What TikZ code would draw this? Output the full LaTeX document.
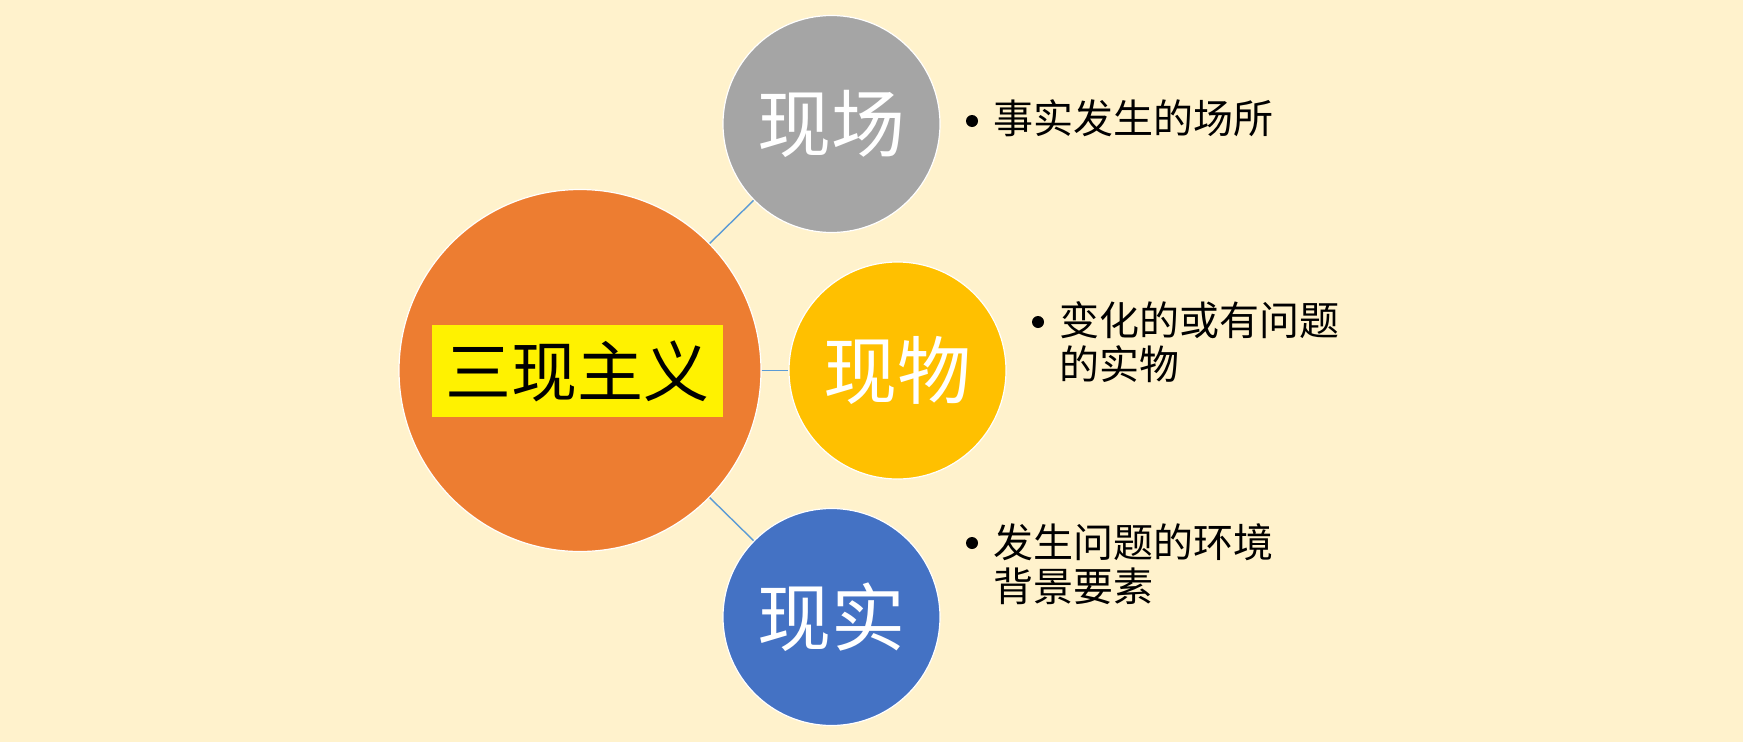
\documentclass[tikz,border=0pt]{standalone}
\usepackage{fontspec}
\setmainfont{Noto Sans CJK SC}
\definecolor{bgc}{HTML}{FFF2CC}
\definecolor{orangec}{HTML}{ED7D31}
\definecolor{grayc}{HTML}{A5A5A5}
\definecolor{goldc}{HTML}{FFC000}
\definecolor{bluec}{HTML}{4472C4}
\definecolor{linec}{HTML}{5B9BD5}
\tikzset{
  bigball/.style={circle, fill=orangec, draw=white, line width=1.2pt, inner sep=0pt, minimum size=362pt},
  ball/.style={circle, draw=white, line width=1.2pt, inner sep=0pt, minimum size=217pt,
    text=white, font=\fontsize{74}{80}\selectfont},
  titlebox/.style={fill=yellow, inner sep=0pt, minimum width=291pt, minimum height=92pt,
    font=\fontsize{66}{70}\selectfont},
  link/.style={draw=linec, line width=1.4pt},
  dot/.style={circle, fill=black, inner sep=0pt, minimum size=12pt},
  item/.style={anchor=base west, inner sep=0pt, align=left, font=\fontsize{40}{44}\selectfont}
}
\begin{document}
\begin{tikzpicture}[x=1pt,y=-1pt]
\useasboundingbox (0,0) rectangle (1743,742);
\fill[bgc] (0,0) rectangle (1743,742);
\node[bigball] (main) at (580,370.5) {};
\node[titlebox] (title) at (577.5,371) {三现主义};
\node[ball, fill=grayc] (site) at (831.5,124) {现场};
\node[ball, fill=goldc] (thing) at (897.5,370.5) {现物};
\node[ball, fill=bluec] (real) at (831.5,617) {现实};
\draw[link] (main) -- (site);
\draw[link] (main) -- (thing);
\draw[link] (main) -- (real);
\node[dot] (d1) at (972,121) {};
\node[item] (t1) at (993,133) {事实发生的场所};
\node[dot] (d2) at (1038,322) {};
\node[item] (t2) at (1059,379) {变化的或有问题\\的实物};
\node[dot] (d3) at (972,543) {};
\node[item] (t3) at (993,601) {发生问题的环境\\背景要素};
\end{tikzpicture}
\end{document}
